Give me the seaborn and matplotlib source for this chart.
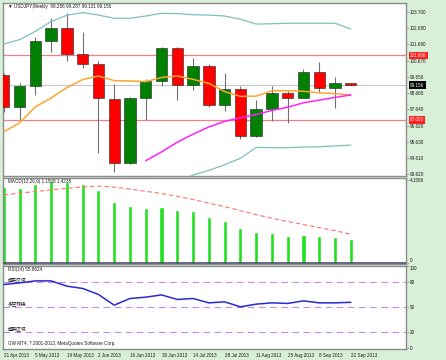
import numpy as np
import pandas as pd
import matplotlib
matplotlib.use("Agg")
import matplotlib.pyplot as plt
import matplotlib.transforms as mtransforms
import seaborn as sns

# weekly USDJPY data
weeks = ["21 Apr 2013", "28 Apr 2013", "5 May 2013", "12 May 2013", "19 May 2013",
         "26 May 2013", "2 Jun 2013", "9 Jun 2013", "16 Jun 2013", "23 Jun 2013",
         "30 Jun 2013", "7 Jul 2013", "14 Jul 2013", "21 Jul 2013", "28 Jul 2013",
         "4 Aug 2013", "11 Aug 2013", "18 Aug 2013", "25 Aug 2013", "1 Sep 2013",
         "8 Sep 2013", "15 Sep 2013", "22 Sep 2013"]
opens = [99.78, 97.81, 99.10, 101.92, 102.68, 101.09, 100.44, 98.31, 94.28, 98.35,
         99.43, 101.44, 99.18, 100.34, 97.91, 98.89, 96.00, 97.64, 98.64, 98.35,
         99.97, 98.95, 99.286]
highs = [99.90, 99.26, 102.12, 103.31, 103.66, 102.47, 100.67, 99.22, 98.43, 99.51,
         101.54, 101.50, 100.84, 100.44, 99.92, 99.10, 98.22, 99.11, 98.78, 100.17,
         100.59, 99.64, 99.287]
lows = [97.48, 96.98, 98.53, 101.23, 100.65, 100.19, 94.94, 93.76, 94.24, 96.98,
        99.10, 98.22, 98.85, 97.77, 97.56, 95.78, 95.94, 96.94, 96.81, 98.33,
        98.64, 97.73, 99.131]
closes = [97.79, 99.10, 101.92, 102.68, 101.09, 100.46, 98.33, 94.28, 98.35, 99.43,
          101.44, 99.18, 100.34, 97.91, 98.89, 96.00, 97.64, 98.68, 98.37, 99.97,
          98.95, 99.26, 99.156]
ma_fast = [96.25, 96.80, 97.80, 98.35, 99.00, 99.50, 99.72, 99.43, 99.41, 99.37,
           99.63, 99.72, 99.51, 99.26, 98.75, 98.45, 98.47, 98.80, 98.80, 98.77,
           98.68, 98.62, 98.54]
ma_slow = [np.nan] * 9 + [94.45, 95.00, 95.60, 96.10, 96.55, 96.90, 97.12, 97.32,
                          97.58, 97.78, 98.05, 98.22, 98.39, 98.54]
band_upper = [101.71, 101.98, 102.50, 103.10, 103.50, 103.66, 103.51, 103.31, 103.31,
              103.45, 103.62, 103.60, 103.53, 103.51, 103.45, 103.25, 102.95, 102.97,
              103.00, 103.00, 103.00, 103.00, 102.64]
band_lower = [np.nan] * 10 + [92.80, 93.15, 93.56, 93.85, 94.20, 94.60, 95.28, 95.26,
                              95.26, 95.30, 95.32, 95.37, 95.42]
macd_main = [3.72, 3.69, 3.89, 4.02, 3.97, 3.89, 3.59, 2.97, 2.77, 2.70, 2.75, 2.59,
             2.54, 2.22, 2.05, 1.67, 1.50, 1.42, 1.30, 1.35, 1.27, 1.22, 1.1508]
macd_signal = [3.39, 3.48, 3.56, 3.64, 3.72, 3.79, 3.83, 3.78, 3.68, 3.57, 3.46, 3.32,
               3.16, 2.98, 2.80, 2.60, 2.40, 2.22, 2.06, 1.91, 1.75, 1.60, 1.4238]
rsi = [77.5, 79.5, 81.9, 81.9, 75.5, 72.7, 65.4, 52.4, 60.5, 62.1, 64.9, 59.3, 60.5,
       55.2, 56.4, 50.4, 53.6, 55.2, 54.5, 57.6, 55.2, 55.2, 55.8624]
price_ticks = [103.700, 102.680, 101.690, 100.670, 99.650, 98.660, 97.640, 96.620,
               95.630, 94.610, 93.620]
levels = [101.0, 97.0]
last_price = 99.156
rsi_levels = [80, 50, 20]
rsi_level_names = ["超买区域", "多空转换", "超卖区域"]

df = pd.DataFrame({"week": weeks, "open": opens, "high": highs, "low": lows,
                   "close": closes, "ma_fast": ma_fast, "ma_slow": ma_slow,
                   "upper": band_upper, "lower": band_lower, "macd": macd_main,
                   "signal": macd_signal, "rsi": rsi})
df["i"] = np.arange(len(df))

sns.set_style("white")
plt.rcParams["font.family"] = ["Liberation Sans", "Noto Sans CJK SC"]
FS = 3.35
BG = "#d8efd8"
FRAME = "#8c8c8c"
TXT = "#1a1a1a"

fig = plt.figure(figsize=(4.46, 3.6), dpi=100, facecolor=BG)
ax = fig.add_axes([3 / 446, 1 - 176 / 360, 403 / 446, 173 / 360])
ax_m = fig.add_axes([3 / 446, 1 - 264 / 360, 403 / 446, 86 / 360])
ax_r = fig.add_axes([3 / 446, 1 - 349 / 360, 403 / 446, 83 / 360])

xlim = (-0.05, 25.5)
for a in (ax, ax_m, ax_r):
    a.set_facecolor("white")
    a.set_xlim(*xlim)
    for s in a.spines.values():
        s.set_color(FRAME)
        s.set_linewidth(1.0)
    a.yaxis.tick_right()
    a.tick_params(axis="y", length=2, width=0.5, color=FRAME, pad=1,
                  labelsize=FS, labelcolor=TXT)

# ---- price panel
ax.set_ylim(93.5, 104.26)
for lv in levels:
    ax.axhline(lv, color="#f08080", lw=0.9, zorder=1)
ax.axhline(last_price, color="#c8c8c8", lw=0.8, zorder=1)

up = df["close"] >= df["open"]
ax.vlines(df["i"], df["low"], df["high"], color="#707070", lw=0.8, zorder=2)
ax.bar(df["i"], df["close"] - df["open"], bottom=df["open"], width=0.72,
       color=np.where(up, "#008000", "#ff0000"), edgecolor="#202020", lw=0.4, zorder=3)

sns.lineplot(data=df, x="i", y="upper", ax=ax, color="#7fbfbf", lw=0.9, zorder=4)
sns.lineplot(data=df, x="i", y="lower", ax=ax, color="#7fbfbf", lw=0.9, zorder=4)
sns.lineplot(data=df, x="i", y="ma_fast", ax=ax, color="#ffa530", lw=1.1, zorder=4)
sns.lineplot(data=df, x="i", y="ma_slow", ax=ax, color="#ff22ff", lw=1.1, zorder=4)
ax.set_yticks(price_ticks)
ax.set_yticklabels([f"{v:.3f}" for v in price_ticks])
ax.set_xticks([])
ax.set_xlabel("")
ax.set_ylabel("")

bt = mtransforms.blended_transform_factory(ax.transAxes, ax.transData)
for lv in levels:
    ax.text(1.01, lv, f"{lv:.3f}", transform=bt, fontsize=FS, color="white",
            va="center", ha="left",
            bbox=dict(fc="#ff2020", ec="none", boxstyle="square,pad=0.3"))
ax.text(1.01, last_price, f"{last_price:.3f}", transform=bt, fontsize=FS, color="white",
        va="center", ha="left", bbox=dict(fc="black", ec="none", boxstyle="square,pad=0.3"))
ax.text(0.012, 0.977, "▼ USDJPY,Weekly  99.286 99.287 99.131 99.156",
        transform=ax.transAxes, fontsize=FS, va="center", ha="left", color=TXT,
        family=["Liberation Sans", "DejaVu Sans"])

# ---- MACD panel
ax_m.set_ylim(-0.065, 4.235)
ax_m.bar(df["i"], df["macd"], width=0.13, color="#1ee01e", edgecolor="#1ee01e",
         lw=0.4, zorder=2)
sns.lineplot(data=df, x="i", y="signal", ax=ax_m, color="#ff7070", lw=0.8,
             zorder=3).lines[-1].set_dashes([4, 2.5])
ax_m.axhline(0, color="#50506a", lw=1.2, zorder=3)
ax_m.set_yticks([0, 4.1566])
ax_m.set_yticklabels(["0", "4.1566"])
ax_m.get_yticklabels()[0].set_va("bottom")
ax_m.set_xticks([])
ax_m.set_xlabel("")
ax_m.set_ylabel("")
ax_m.text(0.012, 0.965, "MACD(12,26,9) 1.1508 1.4238", transform=ax_m.transAxes,
          fontsize=FS, va="center", ha="left", color=TXT)

# ---- RSI panel
ax_r.set_ylim(-0.9, 99.7)
rt = mtransforms.blended_transform_factory(ax_r.transAxes, ax_r.transData)
for lv, name in zip(rsi_levels, rsi_level_names):
    ax_r.axhline(lv, color="#c58be6", lw=0.8, dashes=(6, 4), zorder=1)
    ax_r.text(0.012, lv + 3.5, name, transform=rt, fontsize=FS, va="center", ha="left",
              color=TXT, family=["Noto Sans CJK SC", "DejaVu Sans"])
sns.lineplot(data=df, x="i", y="rsi", ax=ax_r, color="#2a2ad0", lw=1.1, zorder=3)
ax_r.set_yticks([0, 20, 50, 80, 100])
ax_r.get_yticklabels()[-1].set_va("top")
ax_r.set_xticks(df["i"][::2])
ax_r.set_xticklabels(df["week"][::2], ha="left")
ax_r.tick_params(axis="x", length=2, width=0.5, color=FRAME, pad=1, labelsize=FS,
                 labelcolor=TXT)
ax_r.set_xlabel("")
ax_r.set_ylabel("")
ax_r.text(0.012, 0.955, "RSI(14) 55.8624", transform=ax_r.transAxes, fontsize=FS,
          va="center", ha="left", color=TXT)
ax_r.text(0.012, 0.07, "GW MT4, ? 2001-2013, MetaQuotes Software Corp.",
          transform=ax_r.transAxes, fontsize=FS, va="center", ha="left", color=TXT)
for a in (ax, ax_m, ax_r):
    a.set_xlim(*xlim)

fig.savefig("out.png", dpi=100, facecolor=BG)
